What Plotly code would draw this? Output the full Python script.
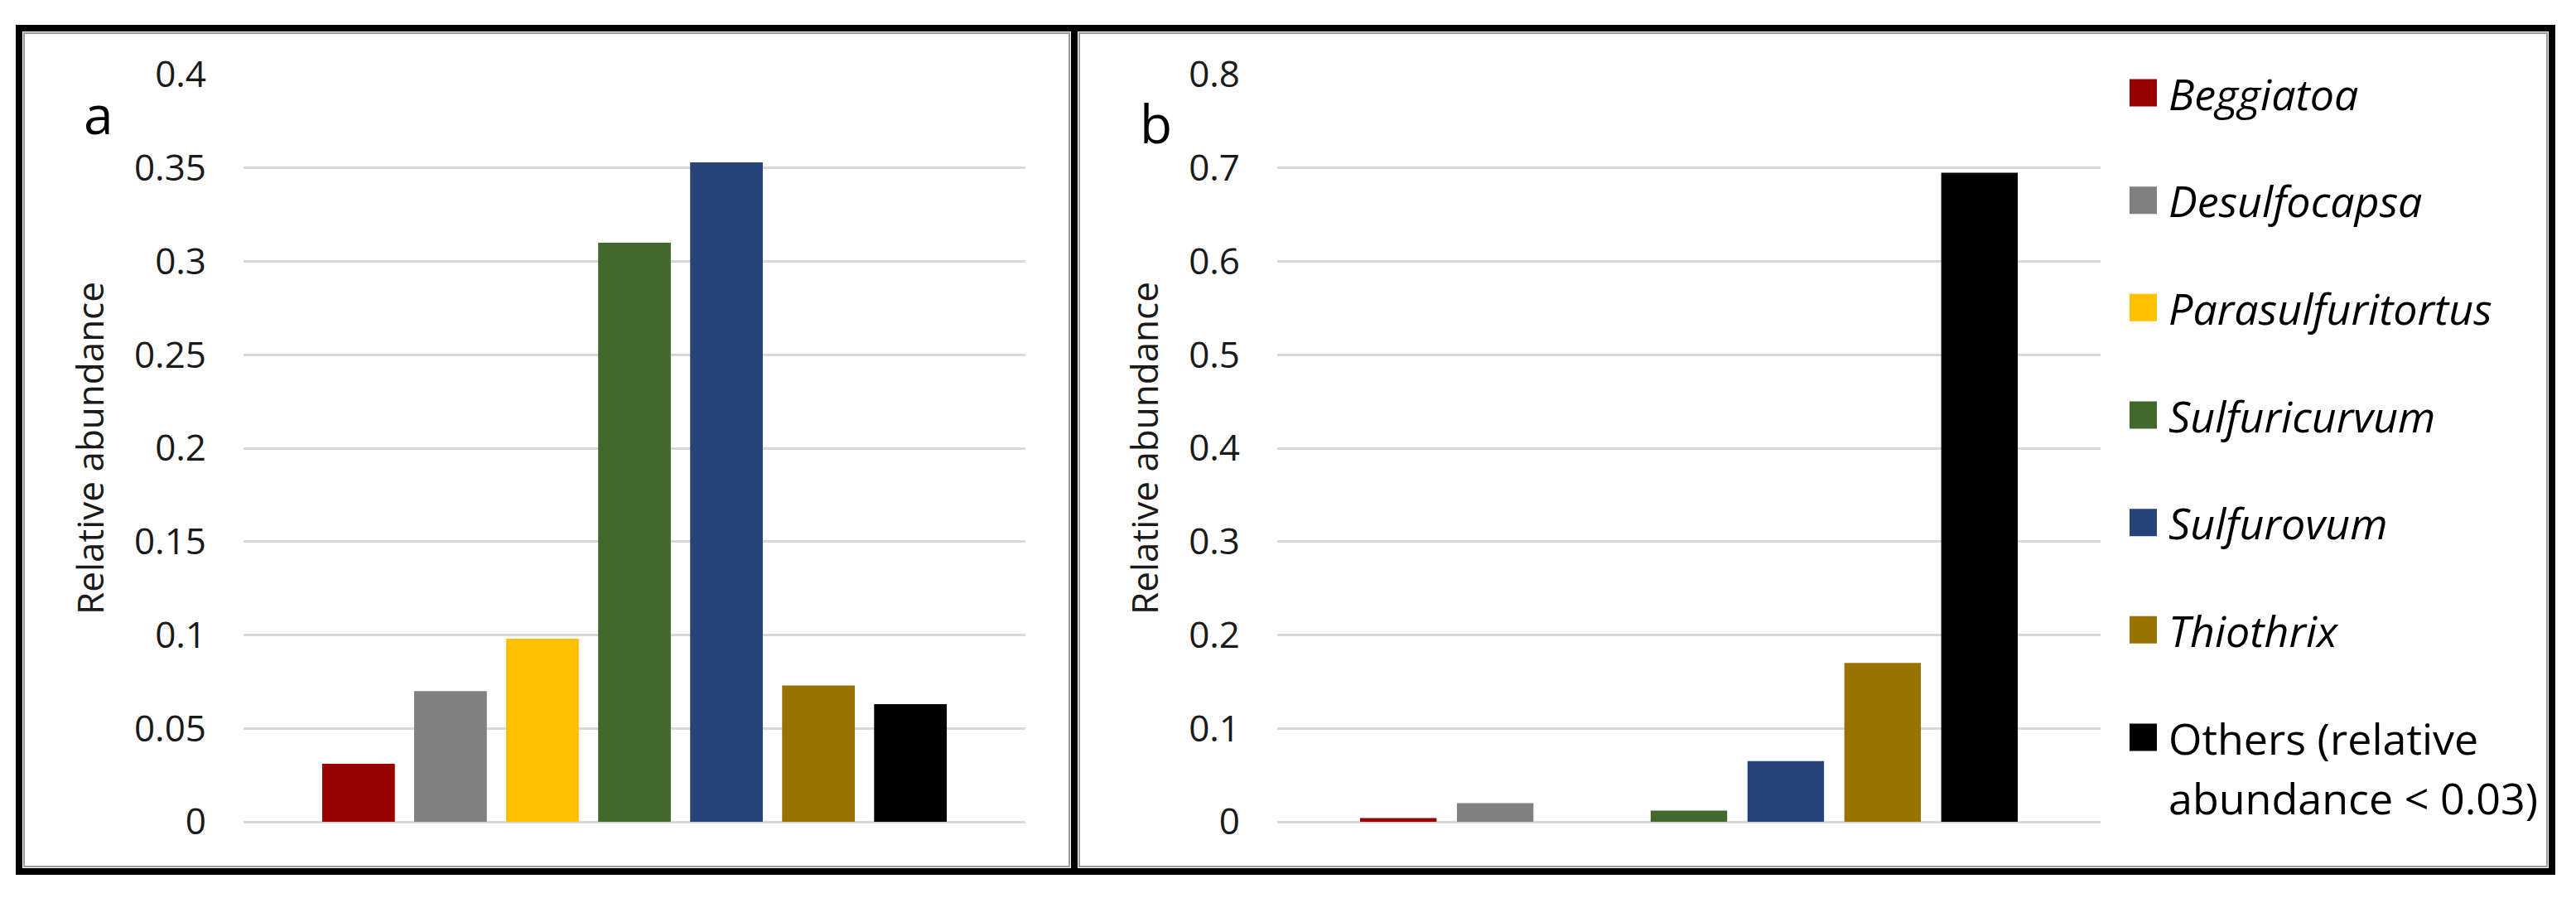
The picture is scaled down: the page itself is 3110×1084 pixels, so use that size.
import plotly.graph_objects as go

W, H = 3110, 1084

genera = ["Beggiatoa", "Desulfocapsa", "Parasulfuritortus", "Sulfuricurvum",
          "Sulfurovum", "Thiothrix", "Others"]
legend_labels = ["<i>Beggiatoa</i>", "<i>Desulfocapsa</i>", "<i>Parasulfuritortus</i>",
                 "<i>Sulfuricurvum</i>", "<i>Sulfurovum</i>", "<i>Thiothrix</i>",
                 "Others (relative<br>abundance < 0.03)"]
colors = ["#990000", "#808080", "#FFC000", "#43682B", "#264478", "#997300", "#000000"]

abundance_a = [0.031, 0.070, 0.098, 0.310, 0.353, 0.073, 0.063]
abundance_b = [0.004, 0.020, 0.0, 0.012, 0.065, 0.170, 0.695]

ticks_a = [0, 0.05, 0.1, 0.15, 0.2, 0.25, 0.3, 0.35, 0.4]
ticks_b = [0, 0.1, 0.2, 0.3, 0.4, 0.5, 0.6, 0.7, 0.8]

FONT = "Open Sans"
TXT = "#1a1a1a"
GRID = "#d9d9d9"


def px_x(p):
    return p / W


def px_y(p):
    return 1 - p / H


fig = go.Figure()

fig.add_trace(go.Bar(x=genera, y=abundance_a, marker=dict(color=colors, line=dict(width=0)),
                     xaxis="x", yaxis="y", showlegend=False))
fig.add_trace(go.Bar(x=genera, y=abundance_b, marker=dict(color=colors, line=dict(width=0)),
                     xaxis="x2", yaxis="y2", showlegend=False))

# legend swatches on their own little axis
fig.add_trace(go.Scatter(x=[0.5] * len(genera), y=genera, mode="markers",
                         marker=dict(symbol="square", size=33, color=colors, line=dict(width=0)),
                         xaxis="x3", yaxis="y3", showlegend=False, hoverinfo="skip"))

ydom = [px_y(992), px_y(90)]
common_y = dict(showgrid=True, gridcolor=GRID, gridwidth=3, zeroline=True, zerolinecolor=GRID,
                zerolinewidth=3, showline=False, ticks="", ticklabelstandoff=44, automargin=False,
                tickfont=dict(family=FONT, size=44, color=TXT),
                title=dict(text="Relative abundance", font=dict(family=FONT, size=44, color=TXT),
                           standoff=22))
common_x = dict(showticklabels=False, showgrid=False, zeroline=False, showline=False, ticks="",
                automargin=False, range=[-1.25, 7.25])

fig.update_layout(
    width=W, height=H,
    margin=dict(l=0, r=0, t=0, b=0, pad=0, autoexpand=False),
    paper_bgcolor="white", plot_bgcolor="white",
    bargap=0.21, barmode="overlay",
    xaxis=dict(domain=[px_x(294), px_x(1238)], **common_x),
    yaxis=dict(domain=ydom, range=[0, 0.4], tickvals=ticks_a,
               ticktext=[f"{t:g}" for t in ticks_a], **common_y),
    xaxis2=dict(domain=[px_x(1542), px_x(2536)], anchor="y2", **common_x),
    yaxis2=dict(domain=ydom, range=[0, 0.8], tickvals=ticks_b, anchor="x2",
                ticktext=[f"{t:g}" for t in ticks_b], **common_y),
    xaxis3=dict(domain=[px_x(2571), px_x(2604)], range=[0, 1], anchor="y3", visible=False,
                automargin=False),
    yaxis3=dict(domain=[0, 1], range=[7.496, -0.864], anchor="x3", visible=False,
                type="category", categoryarray=genera, automargin=False),
)

annotations = [
    dict(text="a", x=px_x(119), y=px_y(137), xref="paper", yref="paper", showarrow=False,
         xanchor="center", yanchor="middle", font=dict(family=FONT, size=64, color="#000")),
    dict(text="b", x=px_x(1395), y=px_y(148), xref="paper", yref="paper", showarrow=False,
         xanchor="center", yanchor="middle", font=dict(family=FONT, size=64, color="#000")),
]
for i, label in enumerate(legend_labels):
    for k, line in enumerate(label.split("<br>")):
        annotations.append(dict(text=line, x=1, y=i, xref="x3", yref="y3", showarrow=False,
                                xanchor="left", yanchor="middle", xshift=12, yshift=-72 * k,
                                font=dict(family=FONT, size=52, color="#000")))
fig.update_layout(annotations=annotations)

# panel frames
shapes = []
for x0, x1 in [(23, 1297), (1297, 3081)]:
    shapes.append(dict(type="rect", xref="paper", yref="paper",
                       x0=px_x(x0), x1=px_x(x1), y0=px_y(1052), y1=px_y(34),
                       line=dict(color="#000", width=8), fillcolor="rgba(0,0,0,0)", layer="above"))
    shapes.append(dict(type="rect", xref="paper", yref="paper",
                       x0=px_x(x0 + 6), x1=px_x(x1 - 6), y0=px_y(1046), y1=px_y(40),
                       line=dict(color="#9a9a9a", width=2), fillcolor="rgba(0,0,0,0)", layer="above"))
fig.update_layout(shapes=shapes)

fig.write_html("out.html", config={"displayModeBar": False},
               post_script="document.body.style.margin='0';")
